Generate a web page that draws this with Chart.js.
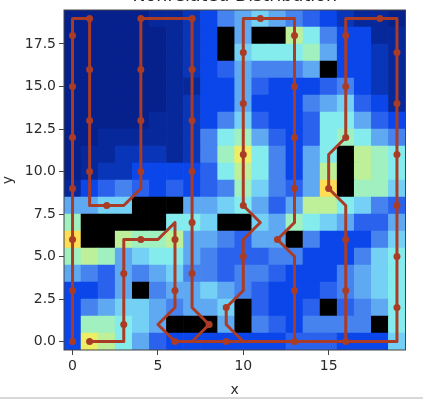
<!DOCTYPE html>
<html>
<head>
<meta charset="utf-8">
<style>
  html, body { margin: 0; padding: 0; background: #fff; overflow: hidden; }
  #wrap { position: absolute; left: 0; top: -14px; width: 423px; height: 413px; filter: blur(0.6px); }
  #edge { position: absolute; left: 0; top: 397px; width: 423px; height: 2px; background: #d8d8d8; }
</style>
<script src="https://cdn.jsdelivr.net/npm/chart.js@4"></script>
</head>
<body>
<div id="wrap"><canvas id="heat" width="423" height="413"></canvas></div>
<div id="edge"></div>
<script>
// Chart text
const chartTitle = 'Nonrelated Distribution';
const xLabel = 'x';
const yLabel = 'y';
const xTicks = [0, 5, 10, 15];
const yTicks = [0, 2.5, 5, 7.5, 10, 12.5, 15, 17.5];

// Cell levels, top row is y=19, bottom row is y=0. null = blocked (black)
const cellRows = [
  [0, 0, 0, 0, 0, 1, 1, 2, 3, 5, 6, 7, 6, 5, 4, 3, 2, 1, 1, 0],
  [0, 0, 0, 0, 0, 0, 1, 2, 3, null, 6, null, null, 10, 8, 5, 3, 3, 1, 1],
  [0, 0, 0, 0, 0, 0, 1, 2, 3, null, 7, 8, 8, 8, 9, 6, 3, 3, 2, 1],
  [0, 0, 0, 0, 0, 0, 1, 2, 3, 4, 6, 5, 5, 5, 6, null, 3, 3, 2, 1],
  [0, 0, 0, 0, 0, 0, 1, 1, 3, 3, 6, 4, 3, 3, 3, 4, 5, 3, 2, 1],
  [0, 0, 0, 0, 0, 0, 1, 2, 3, 3, 6, 3, 3, 3, 5, 6, 7, 4, 3, 1],
  [0, 0, 0, 0, 0, 1, 1, 2, 3, 5, 7, 4, 3, 3, 4, 8, 8, 6, 4, 3],
  [0, 0, 1, 1, 1, 1, 1, 2, 5, 8, 9, 6, 4, 3, 4, 8, 9, 8, 6, 5],
  [0, 1, 1, 2, 2, 2, 1, 2, 5, 9, 11, 8, 5, 3, 6, 8, null, 10, 9, 8],
  [0, 1, 2, 2, 3, 3, 3, 3, 4, 8, 10, 8, 5, 3, 6, 10, null, 10, 9, 8],
  [1, 3, 4, 5, 4, 3, 4, 3, 4, 5, 9, 7, 5, 4, 6, 12, null, 9, 9, 7],
  [6, 6, 7, 7, null, null, null, 6, 6, 7, 8, 6, 4, 6, 10, 10, 8, 7, 5, 4],
  [9, null, null, null, null, null, 8, 8, 7, null, null, 7, 6, 9, 8, 7, 6, 4, 4, 6],
  [12, null, null, 10, 9, 9, 10, 6, 6, 5, 4, 6, 6, null, 5, 3, 3, 3, 5, 7],
  [9, 10, 9, 6, 7, 8, 8, 6, 5, 4, 4, 4, 5, 5, 3, 3, 3, 5, 7, 8],
  [6, 5, 4, 6, 5, 6, 7, 5, 5, 4, 5, 5, 4, 3, 3, 3, 5, 6, 7, 8],
  [3, 3, 4, 6, null, 5, 6, 6, 7, 6, 5, 4, 3, 3, 3, 4, 5, 6, 7, 8],
  [3, 5, 6, 7, 7, 6, 5, 6, 6, 7, null, 4, 3, 3, 4, null, 4, 5, 6, 8],
  [3, 9, 9, 8, 7, 6, null, null, null, 6, null, 5, 4, 3, 5, 5, 5, 5, null, 8],
  [3, 11, 10, 8, 6, 4, 3, 3, 3, 3, 3, 3, 3, 4, 4, 4, 3, 3, 3, 7]
];

// Route corners
const pathX = [1, 3, 3, 5, 6, 6, 5, 6, 10, 9, 9, 10, 10, 11, 10, 10, 13, 13, 12, 13, 13, 16, 16, 15, 15, 16, 16, 19, 19, 7, 8, 7, 7, 4, 4, 3, 1, 1, 0, 0];
const pathY = [0, 0, 6, 6, 7, 2, 1, 0, 0, 1, 2, 3, 6, 7, 8, 19, 19, 7, 6, 5, 0, 0, 8, 9, 11, 12, 19, 19, 0, 0, 1, 2, 19, 19, 9, 8, 8, 19, 19, 0];

// Route dots
const dotX = [1, 3, 3, 4, 6, 6, 6, 9, 9, 10, 10, 10, 10, 10, 11, 13, 13, 13, 13, 12, 13, 13, 16, 16, 16, 15, 16, 16, 16, 18, 19, 19, 19, 19, 19, 19, 8, 7, 7, 7, 7, 7, 7, 4, 4, 4, 4, 2, 1, 1, 1, 1, 0, 0, 0, 0, 0, 0, 0];
const dotY = [0, 1, 4, 6, 6, 3, 0, 0, 2, 5, 8, 11, 14, 17, 19, 18, 15, 12, 9, 6, 3, 0, 0, 3, 6, 9, 12, 15, 18, 19, 17, 14, 11, 8, 5, 2, 1, 4, 7, 10, 13, 16, 19, 19, 16, 13, 10, 8, 10, 13, 16, 19, 18, 15, 12, 9, 6, 3, 0];

// Colours, one per level
const levelColors = ['#06218c', '#07289a', '#0935b8', '#0a46ea', '#2a62ee', '#4683ee', '#5fa8f2', '#74d0f5', '#85ecee', '#a0f0c0', '#bdf098', '#eeee66', '#ffdd55'];

// Heatmap cells as floating bars on the linear x scale
const cells = [];
cellRows.forEach((row, r) => {
  const y = cellRows.length - 1 - r;
  row.forEach((level, x) => cells.push({ x: x, y: [y - 0.5, y + 0.5], level: level }));
});

const frame = {
  id: 'frame',
  afterDatasetsDraw(chart) {
    const a = chart.chartArea;
    const ctx = chart.ctx;
    ctx.save();
    ctx.strokeStyle = '#444';
    ctx.lineWidth = 1;
    ctx.strokeRect(a.left, a.top, a.right - a.left, a.bottom - a.top);
    ctx.restore();
  }
};

new Chart(document.getElementById('heat').getContext('2d'), {
  type: 'bar',
  data: {
    datasets: [
      {
        type: 'bar',
        data: cells,
        order: 3,
        grouped: false,
        barPercentage: 1,
        categoryPercentage: 1,
        backgroundColor: c => (c.raw.level === null ? '#000' : levelColors[c.raw.level])
      },
      {
        type: 'line',
        data: pathX.map((x, i) => ({ x: x, y: pathY[i] })),
        order: 2,
        borderColor: '#aa3c26',
        borderWidth: 3,
        borderJoinStyle: 'round',
        pointRadius: 0,
        tension: 0
      },
      {
        type: 'line',
        data: dotX.map((x, i) => ({ x: x, y: dotY[i] })),
        order: 1,
        showLine: false,
        pointRadius: 3.5,
        pointBackgroundColor: '#aa3c26',
        pointBorderWidth: 0
      }
    ]
  },
  options: {
    responsive: false,
    animation: false,
    layout: { padding: { left: 0, right: 17.5, top: 0, bottom: 0 } },
    plugins: {
      legend: { display: false },
      tooltip: { enabled: false },
      title: {
        display: true,
        text: chartTitle,
        fullSize: false,
        color: '#222',
        font: { family: 'DejaVu Sans', size: 17.5, weight: 'normal' },
        padding: { top: 0, bottom: 3 }
      }
    },
    scales: {
      x: {
        type: 'linear',
        offset: false,
        min: -0.5,
        max: 19.5,
        grid: { display: true, offset: false, drawOnChartArea: false, drawTicks: true, tickLength: 5, color: '#444' },
        border: { display: false },
        afterBuildTicks: s => { s.ticks = xTicks.map(v => ({ value: v })); },
        afterFit: s => { s.height = 49; },
        ticks: { color: '#2a2a2a', font: { family: 'DejaVu Sans', size: 14 }, maxRotation: 0, padding: 3 },
        title: { display: true, text: xLabel, color: '#2a2a2a', font: { family: 'DejaVu Sans', size: 14 }, padding: 0 }
      },
      y: {
        type: 'linear',
        min: -0.5,
        max: 19.5,
        grid: { display: true, drawOnChartArea: false, drawTicks: true, tickLength: 5, color: '#444' },
        border: { display: false },
        afterBuildTicks: s => { s.ticks = yTicks.map(v => ({ value: v })); },
        afterFit: s => { s.width = 64; },
        ticks: { color: '#2a2a2a', font: { family: 'DejaVu Sans', size: 14 }, padding: 3, callback: v => v.toFixed(1) },
        title: { display: true, text: yLabel, color: '#2a2a2a', font: { family: 'DejaVu Sans', size: 14 }, padding: 0 }
      }
    }
  },
  plugins: [frame]
});
</script>
</body>
</html>
